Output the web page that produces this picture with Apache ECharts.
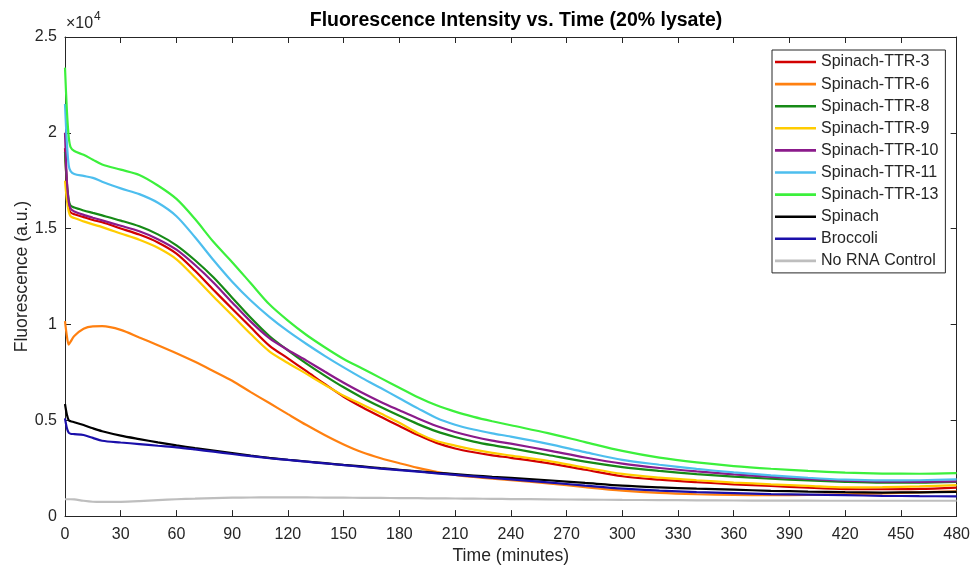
<!DOCTYPE html>
<html>
<head>
<meta charset="utf-8">
<title>Fluorescence Intensity vs. Time (20% lysate)</title>
<script src="https://cdn.jsdelivr.net/npm/echarts@6/dist/echarts.min.js"></script>
<style>
  html, body { margin: 0; padding: 0; background: #ffffff; }
  #chart { width: 973px; height: 570px; }
</style>
</head>
<body>
<div id="chart"></div>
<script>
// Sampling times (minutes)
const times = [0, 1, 2, 3, 5, 10, 15, 20, 30, 40, 50, 60, 70, 80, 90, 100, 110, 120, 130, 140, 150, 160, 170, 180, 190, 200, 210, 220, 230, 240, 260, 280, 300, 320, 340, 360, 380, 400, 420, 440, 460, 480];

// Fluorescence readings (a.u.) for each construct
const ttr3  = [19200, 17200, 16100, 15850, 15750, 15600, 15450, 15330, 15010, 14690, 14280, 13700, 12800, 11800, 10820, 9850, 8900, 8230, 7560, 6880, 6230, 5680, 5180, 4700, 4230, 3820, 3530, 3330, 3170, 3040, 2760, 2420, 2080, 1900, 1770, 1660, 1570, 1480, 1410, 1400, 1420, 1490];
const ttr6  = [10170, 9400, 8950, 9100, 9400, 9780, 9900, 9910, 9720, 9320, 8920, 8500, 8050, 7560, 7060, 6470, 5900, 5320, 4750, 4220, 3740, 3330, 3020, 2760, 2520, 2310, 2150, 2040, 1950, 1870, 1710, 1510, 1330, 1210, 1140, 1100, 1090, 1100, 1140, 1190, 1240, 1290];
const ttr8  = [19000, 17400, 16500, 16200, 16100, 15950, 15820, 15690, 15420, 15120, 14700, 14130, 13350, 12450, 11400, 10350, 9400, 8650, 7960, 7320, 6720, 6180, 5690, 5230, 4800, 4420, 4130, 3890, 3700, 3540, 3190, 2840, 2560, 2360, 2190, 2060, 1950, 1860, 1790, 1750, 1750, 1790];
const ttr9  = [17500, 16500, 15900, 15650, 15550, 15380, 15220, 15080, 14750, 14420, 14000, 13400, 12450, 11450, 10480, 9500, 8600, 7990, 7420, 6840, 6280, 5820, 5350, 4870, 4330, 3920, 3680, 3470, 3300, 3160, 2880, 2530, 2200, 2010, 1870, 1750, 1660, 1580, 1500, 1510, 1550, 1620];
const ttr10 = [20000, 17500, 16400, 16050, 15900, 15720, 15570, 15430, 15150, 14860, 14450, 13900, 13100, 12180, 11150, 10150, 9290, 8670, 8110, 7530, 6960, 6440, 5960, 5520, 5090, 4700, 4390, 4140, 3940, 3780, 3430, 3060, 2740, 2510, 2330, 2180, 2050, 1940, 1850, 1800, 1790, 1810];
const ttr11 = [21500, 19500, 18300, 18000, 17850, 17750, 17650, 17450, 17100, 16800, 16350, 15650, 14550, 13350, 12230, 11250, 10400, 9650, 8980, 8350, 7760, 7200, 6680, 6150, 5620, 5120, 4770, 4520, 4320, 4150, 3770, 3340, 2930, 2680, 2460, 2280, 2130, 2000, 1900, 1860, 1870, 1920];
const ttr13 = [23400, 21200, 19800, 19250, 19050, 18850, 18600, 18350, 18080, 17800, 17250, 16550, 15500, 14300, 13250, 12150, 11050, 10200, 9450, 8800, 8200, 7700, 7200, 6700, 6200, 5780, 5450, 5180, 4950, 4740, 4330, 3860, 3400, 3050, 2800, 2610, 2470, 2360, 2270, 2220, 2210, 2240];
const spinach  = [5850, 5300, 5000, 4950, 4900, 4750, 4580, 4430, 4200, 4020, 3850, 3690, 3550, 3420, 3290, 3160, 3040, 2940, 2850, 2760, 2670, 2590, 2500, 2420, 2340, 2260, 2190, 2120, 2050, 1990, 1870, 1730, 1590, 1500, 1430, 1380, 1320, 1280, 1250, 1230, 1240, 1260];
const broccoli = [5100, 4600, 4350, 4300, 4280, 4230, 4080, 3930, 3840, 3760, 3670, 3590, 3480, 3360, 3240, 3130, 3020, 2930, 2840, 2750, 2660, 2570, 2480, 2400, 2320, 2230, 2150, 2070, 1990, 1920, 1760, 1590, 1430, 1330, 1250, 1200, 1150, 1120, 1090, 1060, 1040, 1030];
const noRna    = [880, 880, 880, 880, 870, 800, 750, 740, 745, 780, 830, 880, 910, 940, 960, 970, 975, 975, 972, 968, 962, 955, 948, 940, 933, 926, 918, 910, 900, 890, 875, 860, 845, 835, 825, 815, 808, 803, 800, 800, 800, 800];

const seriesNames = ['Spinach-TTR-3', 'Spinach-TTR-6', 'Spinach-TTR-8', 'Spinach-TTR-9', 'Spinach-TTR-10', 'Spinach-TTR-11', 'Spinach-TTR-13', 'Spinach', 'Broccoli', 'No RNA Control'];
const seriesValues = [ttr3, ttr6, ttr8, ttr9, ttr10, ttr11, ttr13, spinach, broccoli, noRna];
const seriesColors = ['#D20000', '#FF8010', '#168A16', '#FFCC00', '#8B1A8B', '#4DBEEE', '#3CF03C', '#000000', '#1A0FAA', '#BEBEBE'];

// Axis ticks
const xTicks = [0, 480, 30];        // min, max, step (minutes)
const yTicks = [0, 25000, 5000];    // min, max, step (a.u.)
const yScale = 10000;               // labels shown in units of 10^4

const FONT = "'Liberation Sans', Arial, Helvetica, sans-serif";
const AXIS_COLOR = '#262626';

const chart = echarts.init(document.getElementById('chart'), null, { renderer: 'canvas' });

const series = seriesNames.map((name, k) => ({
  name: name,
  type: 'line',
  xAxisIndex: 0,
  yAxisIndex: 0,
  data: times.map((t, i) => [t, seriesValues[k][i]]),
  symbol: 'none',
  smooth: 0.3,
  lineStyle: { color: seriesColors[k], width: 2.2 },
  itemStyle: { color: seriesColors[k] },
  emphasis: { disabled: true }
}));

const tickCommon = { inside: true, length: 6, lineStyle: { color: AXIS_COLOR, width: 1 } };
const lineCommon = { show: true, onZero: false, lineStyle: { color: AXIS_COLOR, width: 1 } };

chart.setOption({
  animation: false,
  backgroundColor: '#ffffff',
  textStyle: { fontFamily: FONT },
  title: {
    text: 'Fluorescence Intensity vs. Time (20% lysate)',
    left: 511,
    top: 6,
    textAlign: 'center',
    textStyle: { fontFamily: FONT, fontSize: 19.5, fontWeight: 'bold', color: '#000000' }
  },
  grid: { left: 65, right: 15, top: 37, bottom: 53 },
  legend: {
    orient: 'vertical',
    left: 772,
    top: 50,
    padding: [4, 7, 4, 3],
    icon: 'rect',
    itemWidth: 41,
    itemHeight: 2.6,
    itemGap: 6.1,
    backgroundColor: '#ffffff',
    borderColor: AXIS_COLOR,
    borderWidth: 1,
    borderRadius: 0,
    data: seriesNames,
    itemStyle: { borderWidth: 0 },
    textStyle: { fontFamily: FONT, fontSize: 16, color: AXIS_COLOR, lineHeight: 16, padding: [0, 0, 0, 0] },
    selectedMode: false
  },
  graphic: [
    {
      type: 'text',
      left: 66,
      top: 16,
      style: { text: '×10', fontFamily: FONT, fontSize: 16, fill: AXIS_COLOR }
    },
    {
      type: 'text',
      left: 94,
      top: 11,
      style: { text: '4', fontFamily: FONT, fontSize: 12, fill: AXIS_COLOR }
    }
  ],
  xAxis: [
    {
      type: 'value',
      position: 'bottom',
      min: xTicks[0], max: xTicks[1], interval: xTicks[2],
      name: 'Time (minutes)',
      nameLocation: 'middle',
      nameGap: 28,
      nameTextStyle: { fontFamily: FONT, fontSize: 17.6, color: AXIS_COLOR },
      axisLine: lineCommon,
      axisTick: tickCommon,
      axisLabel: { fontFamily: FONT, fontSize: 16, color: AXIS_COLOR, margin: 10 },
      splitLine: { show: false }
    },
    {
      type: 'value',
      position: 'top',
      min: xTicks[0], max: xTicks[1], interval: xTicks[2],
      axisLine: lineCommon,
      axisTick: tickCommon,
      axisLabel: { show: false },
      splitLine: { show: false }
    }
  ],
  yAxis: [
    {
      type: 'value',
      position: 'left',
      min: yTicks[0], max: yTicks[1], interval: yTicks[2],
      name: 'Fluorescence (a.u.)',
      nameLocation: 'middle',
      nameGap: 34,
      nameMoveOverlap: false,
      nameTextStyle: { fontFamily: FONT, fontSize: 17.6, color: AXIS_COLOR },
      axisLine: lineCommon,
      axisTick: tickCommon,
      axisLabel: { fontFamily: FONT, fontSize: 16, color: AXIS_COLOR, margin: 8, formatter: v => String(v / yScale) },
      splitLine: { show: false }
    },
    {
      type: 'value',
      position: 'right',
      min: yTicks[0], max: yTicks[1], interval: yTicks[2],
      axisLine: lineCommon,
      axisTick: tickCommon,
      axisLabel: { show: false },
      splitLine: { show: false }
    }
  ],
  series: series
});
</script>
</body>
</html>
